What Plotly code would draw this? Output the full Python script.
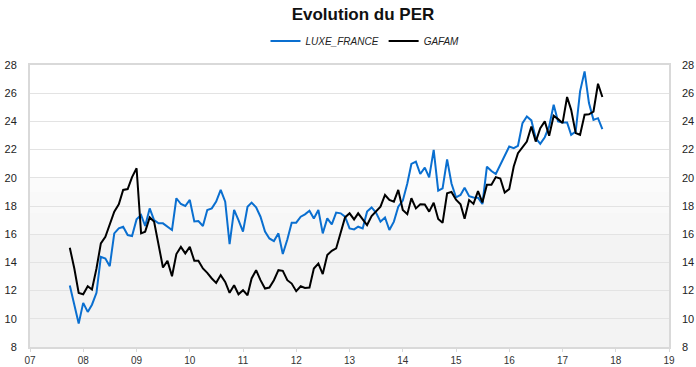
import pandas as pd
import plotly.graph_objects as go

start_month = "2007-10-01"

luxe_france = [
    12.36, 11.0, 9.66, 11.13, 10.49, 11.0, 11.84, 14.4, 14.28, 13.73,
    16.06, 16.41, 16.53, 15.94, 15.87, 17.05, 17.36, 16.58, 17.83, 17.0,
    16.77, 16.77, 16.53, 16.3, 18.55, 18.14, 18.0, 18.43, 16.9, 16.93,
    16.58, 17.72, 17.83, 18.31, 19.14, 18.31, 15.3, 17.72, 17.0, 16.18,
    17.95, 18.24, 17.9, 17.24, 16.18, 15.7, 15.51, 16.06, 14.59, 15.63,
    16.82, 16.82, 17.24, 17.41, 17.67, 17.12, 17.72, 16.06, 17.12, 16.7,
    17.53, 17.48, 17.24, 16.41, 16.34, 16.53, 16.41, 17.6, 17.9, 17.53,
    16.89, 17.19, 16.3, 16.89, 17.95, 18.38, 19.6, 20.98, 21.15, 20.27,
    20.72, 20.03, 21.98, 19.09, 19.25, 21.31, 19.6, 18.61, 18.78, 19.3,
    18.7, 18.61, 18.59, 18.14, 20.79, 20.48, 20.27, 20.91, 21.5, 22.22,
    22.1, 22.27, 23.88, 24.35, 24.07, 22.81, 22.41, 22.88, 23.64, 25.18,
    24.0, 23.92, 23.92, 23.05, 23.28, 26.13, 27.55, 25.3, 24.11, 24.23,
    23.45,
]

gafam = [
    15.04, 13.57, 11.84, 11.74, 12.31, 12.08, 13.57, 15.35, 15.82, 16.77,
    17.6, 18.12, 19.14, 19.2, 20.05, 20.68, 16.06, 16.18, 17.19, 16.9,
    15.1, 13.64, 14.11, 13.02, 14.59, 15.1, 14.64, 15.1, 14.11, 14.11,
    13.57, 13.26, 12.86, 12.55, 13.1, 12.62, 11.84, 12.38, 11.74, 12.03,
    11.67, 12.86, 13.45, 12.74, 12.15, 12.22, 12.74, 13.45, 13.4, 12.74,
    12.5, 11.96, 12.31, 12.19, 12.22, 13.57, 13.92, 13.17, 14.52, 14.82,
    14.99, 16.18, 17.19, 17.48, 17.05, 17.48, 17.05, 16.65, 17.29, 17.6,
    17.95, 18.78, 18.43, 18.31, 19.14, 17.72, 17.42, 18.55, 17.83, 18.12,
    18.1, 17.6, 18.23, 17.08, 16.81, 18.9, 19.0, 18.45, 18.12, 17.1,
    18.42, 18.15, 19.05, 18.25, 19.5, 19.5, 20.05, 19.95, 18.95, 19.2,
    20.8, 21.74, 22.17, 22.57, 23.64, 22.57, 23.52, 24.0, 22.98, 24.4,
    24.16, 23.88, 25.73, 24.82, 23.17, 23.05, 24.47, 24.5, 24.7, 26.67,
    25.73,
]

dates = pd.date_range(start_month, periods=len(luxe_france), freq="MS")

y_min, y_max, y_step = 8, 28, 2
x_start, x_end = "2007-01-01", "2019-01-01"

font_family = "Liberation Sans, Arial, sans-serif"

fig = go.Figure()
fig.add_trace(go.Scatter(
    x=dates, y=luxe_france, name="LUXE_FRANCE", mode="lines",
    line=dict(color="#0a6fd0", width=2),
))
fig.add_trace(go.Scatter(
    x=dates, y=gafam, name="GAFAM", mode="lines",
    line=dict(color="#000000", width=2), yaxis="y2",
))

# background bands (light gradient to grey in lower part)
bands = [(20, 28, "#ffffff"), (19, 20, "#fbfbfb"), (17.5, 19, "#f9f9f9"),
         (16, 17.5, "#f7f7f7"), (8, 16, "#f3f3f3")]
for lo, hi, col in bands:
    fig.add_shape(type="rect", xref="paper", yref="y", x0=0, x1=1, y0=lo, y1=hi,
                  fillcolor=col, line=dict(width=0), layer="below")

fig.update_layout(
    width=696, height=367,
    margin=dict(l=30, r=27, t=65, b=20, autoexpand=False),
    paper_bgcolor="white", plot_bgcolor="white",
    font=dict(family=font_family, color="#222222", size=11),
    title=dict(text="<b>Evolution du PER</b>", x=363 / 696, xanchor="center",
               y=1 - 14 / 367, yanchor="middle", yref="container",
               font=dict(size=17, color="#111111"), automargin=False),
    legend=dict(orientation="h", x=365 / 696, xanchor="center", xref="container",
                y=1 - 41 / 367, yanchor="middle", yref="container",
                font=dict(size=10, style="italic", color="#222222"),
                bgcolor="rgba(0,0,0,0)", itemwidth=30),
    showlegend=True,
    xaxis=dict(type="date", range=[x_start, x_end], dtick="M12", tick0=x_start,
               tickformat="%y", showgrid=False, showline=True, mirror=True,
               linecolor="#d9d9d9", linewidth=2, ticks="outside", ticklen=3,
               tickcolor="#d9d9d9", tickfont=dict(size=10, color="#333333"),
               zeroline=False, automargin=False),
    yaxis=dict(range=[y_min, y_max], dtick=y_step, tick0=y_min, showgrid=True,
               gridcolor="#e3e3e3", gridwidth=1, showline=True, mirror=True,
               linecolor="#d9d9d9", linewidth=2, zeroline=False, automargin=False,
               ticklabelstandoff=9, tickfont=dict(size=11, color="#222222")),
    yaxis2=dict(range=[y_min, y_max], dtick=y_step, tick0=y_min, overlaying="y",
                side="right", showgrid=False, showline=False, zeroline=False,
                automargin=False,
                ticklabelstandoff=12, tickfont=dict(size=11, color="#222222")),
)

fig.write_html("out.html", config={"displayModeBar": False},
               post_script="document.body.style.margin='0';")
